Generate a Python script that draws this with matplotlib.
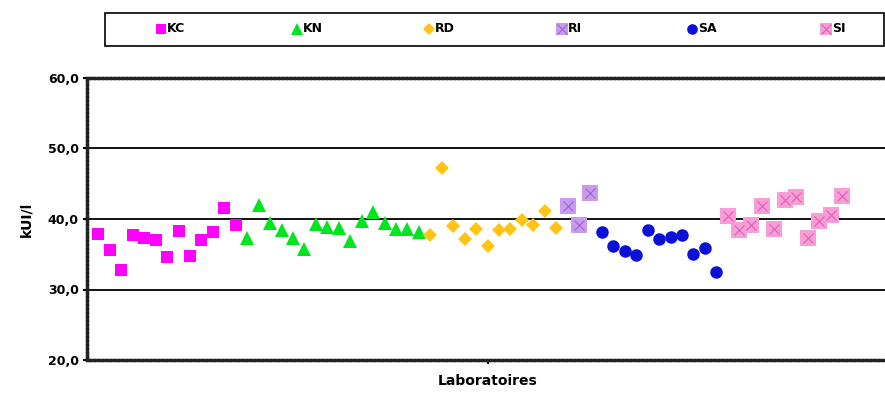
import matplotlib
matplotlib.use("Agg")
import matplotlib.pyplot as plt
from matplotlib.lines import Line2D
from matplotlib.patches import Rectangle
import numpy as np

plt.rcParams['font.family'] = ['DejaVu Sans']

groups = ["KC", "KN", "RD", "RI", "SA", "SI"]
kc = [37.9, 35.6, 32.7, 37.7, 37.3, 37.0, 34.6, 38.3, 34.75, 37.0, 38.2, 41.5, 39.1]
kn = [37.3, 42.0, 39.4, 38.5, 37.3, 35.7, 39.3, 38.8, 38.7, 36.9, 39.7, 41.0, 39.5, 38.6, 38.6, 38.2]
rd = [37.8, 47.2, 38.95, 37.1, 38.6, 36.2, 38.4, 38.6, 39.9, 39.2, 41.1, 38.7]
ri = [41.8, 39.2, 43.7]
sa = [38.2, 36.1, 35.4, 34.9, 38.4, 37.1, 37.5, 37.8, 35.0, 35.9, 32.5]
si = [40.4, 38.4, 39.2, 41.8, 38.6, 42.7, 43.1, 37.3, 39.7, 40.6, 43.3]
series = [kc, kn, rd, ri, sa, si]

yticks = [20, 30, 40, 50, 60]
ytick_labels = ["20,0", "30,0", "40,0", "50,0", "60,0"]

styles = {
    "KC": dict(marker='s', color='#FF00FF', ms=9, cross=None),
    "KN": dict(marker='^', color='#00E61E', ms=10.5, cross=None),
    "RD": dict(marker='D', color='#FFC414', ms=7, cross=None),
    "RI": dict(marker='s', color='#C89BEF', ms=11, cross='#9A63CC'),
    "SA": dict(marker='o', color='#0A10D8', ms=9, cross=None),
    "SI": dict(marker='s', color='#F79ED6', ms=11, cross='#E35CB5'),
}

W, H = 885, 398
fig = plt.figure(figsize=(W / 100, H / 100), dpi=100)
ax = fig.add_axes([87 / W, 1 - 360 / H, (888 - 87) / W, (360 - 78) / H])

idx = 1
for name, vals in zip(groups, series):
    st = styles[name]
    x = np.arange(idx, idx + len(vals))
    ax.plot(x, vals, linestyle='none', marker=st['marker'], color=st['color'],
            markersize=st['ms'], markeredgewidth=0, zorder=3)
    if st['cross']:
        ax.plot(x, vals, linestyle='none', marker='x', color=st['cross'],
                markersize=st['ms'] * 0.7, markeredgewidth=0.8, zorder=4)
    idx += len(vals)

ax.set_xlim(0, 70)
ax.set_ylim(20, 60)
ax.set_yticks(yticks)
ax.set_yticklabels(ytick_labels, fontsize=9, fontweight='bold')
ax.set_xticks([35])
ax.set_xticklabels([""])
ax.tick_params(axis='both', direction='out', length=3, width=1.5, colors='black', pad=3)

for y in [30, 40, 50]:
    ax.axhline(y, color='#111111', lw=1.4, zorder=1)

for side in ['left', 'top', 'bottom']:
    ax.spines[side].set_linestyle((0, (0.8, 0.4)))
    ax.spines[side].set_linewidth(2.4)
    ax.spines[side].set_color('#222222')
ax.spines['right'].set_visible(False)

ax.set_ylabel("kUI/l", fontsize=10, fontweight='bold', labelpad=10)
ax.set_xlabel("Laboratoires", fontsize=10, fontweight='bold', labelpad=4)

# legend box
fig.add_artist(Rectangle((105 / W, 1 - 46 / H), (884 - 105) / W, (46 - 13) / H,
                         transform=fig.transFigure, fill=False, edgecolor='black',
                         linewidth=1.2))
leg_x = [161, 297, 429, 562, 692, 826]
ly = 1 - 29 / H
for name, lx in zip(groups, leg_x):
    st = styles[name]
    fig.add_artist(Line2D([lx / W], [ly], transform=fig.transFigure, linestyle='none',
                          marker=st['marker'], color=st['color'],
                          markersize=st['ms'] * 0.85, markeredgewidth=0))
    if st['cross']:
        fig.add_artist(Line2D([lx / W], [ly], transform=fig.transFigure, linestyle='none',
                              marker='x', color=st['cross'],
                              markersize=st['ms'] * 0.6, markeredgewidth=0.8))
    fig.text((lx + 6) / W, ly, name, fontsize=9, fontweight='bold',
             va='center', ha='left')

fig.savefig("out.png", dpi=100)
